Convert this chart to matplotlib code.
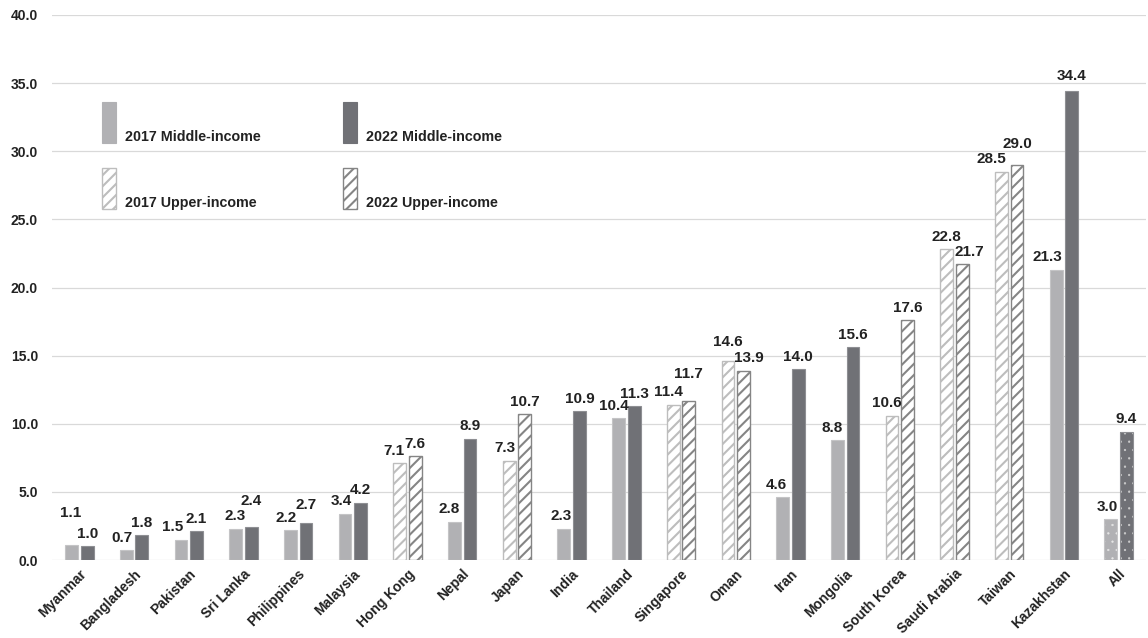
import matplotlib
matplotlib.use("Agg")
import matplotlib.pyplot as plt
from matplotlib.patches import Rectangle
from matplotlib.transforms import ScaledTranslation

plt.rcParams['font.family'] = ['Liberation Sans', 'DejaVu Sans']
plt.rcParams['font.weight'] = 'bold'
plt.rcParams['hatch.linewidth'] = 1.5

# data
countries = ['Myanmar', 'Bangladesh', 'Pakistan', 'Sri Lanka', 'Philippines', 'Malaysia',
             'Hong Kong', 'Nepal', 'Japan', 'India', 'Thailand', 'Singapore', 'Oman', 'Iran',
             'Mongolia', 'South Korea', 'Saudi Arabia', 'Taiwan', 'Kazakhstan', 'All']
v2017 = [1.1, 0.7, 1.5, 2.3, 2.2, 3.4, 7.1, 2.8, 7.3, 2.3,
         10.4, 11.4, 14.6, 4.6, 8.8, 10.6, 22.8, 28.5, 21.3, 3.0]
v2022 = [1.0, 1.8, 2.1, 2.4, 2.7, 4.2, 7.6, 8.9, 10.7, 10.9,
         11.3, 11.7, 13.9, 14.0, 15.6, 17.6, 21.7, 29.0, 34.4, 9.4]
group = ['middle', 'middle', 'middle', 'middle', 'middle', 'middle',
         'upper', 'middle', 'upper', 'middle', 'middle', 'upper', 'upper', 'middle',
         'middle', 'upper', 'upper', 'upper', 'middle', 'all']
yticks = [0, 5, 10, 15, 20, 25, 30, 35, 40]

# label nudges in pixels (hand placed in the original)
dx17 = [-1, -4, -8, -1, -4, -4, -6, -5, -4, -3, -5, -5, 0, -6, -5, -5, 0, -10, -9, -4]
dy17 = [20, 0, 0, 0, 0, 0, 0, 0, 0, 0, 0, 0, 7, 0, 0, 0, 0, 0, 0, 0]
dx22 = [0, 0, 0, 0, 0, 0, 0, 0, 0, 0, 0, 0, 5, 0, 0, 0, 7, 0, 0, 0]
dy22 = [0, 0, 0, 14, 6, 0, 0, 0, 0, 0, 0, 14, 0, 0, 0, 0, 0, 8, 3, 0]

LIGHT = '#b1b1b4'
DARK = '#707176'
LIGHT_EDGE = '#c4c4c6'
DARK_EDGE = '#8e8f93'
HATCH17 = '#bdbdbd'
HATCH22 = '#858585'
TXT = '#222222'

styles = {
    ('middle', 0): dict(color=LIGHT, edgecolor=LIGHT_EDGE, linewidth=0.8),
    ('middle', 1): dict(color=DARK, edgecolor=DARK_EDGE, linewidth=0.8),
    ('upper', 0): dict(facecolor='white', edgecolor=HATCH17, hatch='///', linewidth=1.0),
    ('upper', 1): dict(facecolor='white', edgecolor=HATCH22, hatch='///', linewidth=1.0),
    ('all', 0): dict(facecolor=LIGHT, edgecolor='#e6e6e6', hatch='..', linewidth=0),
    ('all', 1): dict(facecolor=DARK, edgecolor='#d0d0d0', hatch='..', linewidth=0),
}

fig = plt.figure(figsize=(11.48, 6.38), dpi=100)
ax = fig.add_axes([52 / 1148, 78 / 638, 1094 / 1148, 545 / 638])

w = 0.235
off = 0.143
for i, c in enumerate(countries):
    for k, vals in enumerate([v2017, v2022]):
        x = i - off if k == 0 else i + off
        st = styles[(group[i], k)]
        if group[i] == 'all':
            with plt.rc_context({'hatch.linewidth': 0.4}):
                b = ax.bar(x, vals[i], width=w, zorder=3, **st)
            for p in b:
                if hasattr(p, 'set_hatch_linewidth'):
                    p.set_hatch_linewidth(0.4)
            ax.bar(x, vals[i], width=w, zorder=4, facecolor='none',
                   edgecolor=LIGHT_EDGE if k == 0 else DARK_EDGE, linewidth=0.8)
        else:
            ax.bar(x, vals[i], width=w, zorder=3, **st)
        dx = (dx17 if k == 0 else dx22)[i] * 0.72
        dy = (dy17 if k == 0 else dy22)[i] * 0.72
        ax.annotate(f'{vals[i]:.1f}', (x, vals[i]), xytext=(dx, 9 + dy),
                    textcoords='offset points', ha='center', va='center',
                    fontsize=11, fontweight='bold', color=TXT, zorder=5)

ax.set_xlim(-0.5, len(countries) - 0.5)
ax.set_ylim(0, 40)
ax.set_yticks(yticks)
ax.set_yticklabels([f'{t:.1f}' for t in yticks])
ax.set_xticks(range(len(countries)))
ax.set_xticklabels(countries, rotation=45, ha='right', va='top', rotation_mode='anchor')
shift = ScaledTranslation(3 / 72, 0, fig.dpi_scale_trans)
for lab in ax.get_xticklabels():
    lab.set_transform(lab.get_transform() + shift)
ax.tick_params(axis='y', length=0, pad=10, labelsize=10, labelcolor=TXT)
ax.tick_params(axis='x', length=0, pad=5, labelsize=10, labelcolor=TXT)
ax.grid(axis='y', color='#d9d9d9', linewidth=0.9, zorder=0)
ax.set_axisbelow(True)
for s in ax.spines.values():
    s.set_visible(False)

# legend drawn by hand: tall swatches, text sitting on the swatch bottom
leg = [
    ('2017 Middle-income', 0.0457, 0.765, ('middle', 0)),
    ('2022 Middle-income', 0.266, 0.765, ('middle', 1)),
    ('2017 Upper-income', 0.0457, 0.644, ('upper', 0)),
    ('2022 Upper-income', 0.266, 0.644, ('upper', 1)),
]
for text, lx, ly, key in leg:
    ax.add_patch(Rectangle((lx, ly), 0.0128, 0.0752, transform=ax.transAxes,
                           zorder=3, clip_on=False, **styles[key]))
    ax.text(lx + 0.021, ly + 0.003, text, transform=ax.transAxes, ha='left',
            va='baseline', fontsize=10.3, fontweight='bold', color=TXT)

fig.savefig('out.png', dpi=100)
